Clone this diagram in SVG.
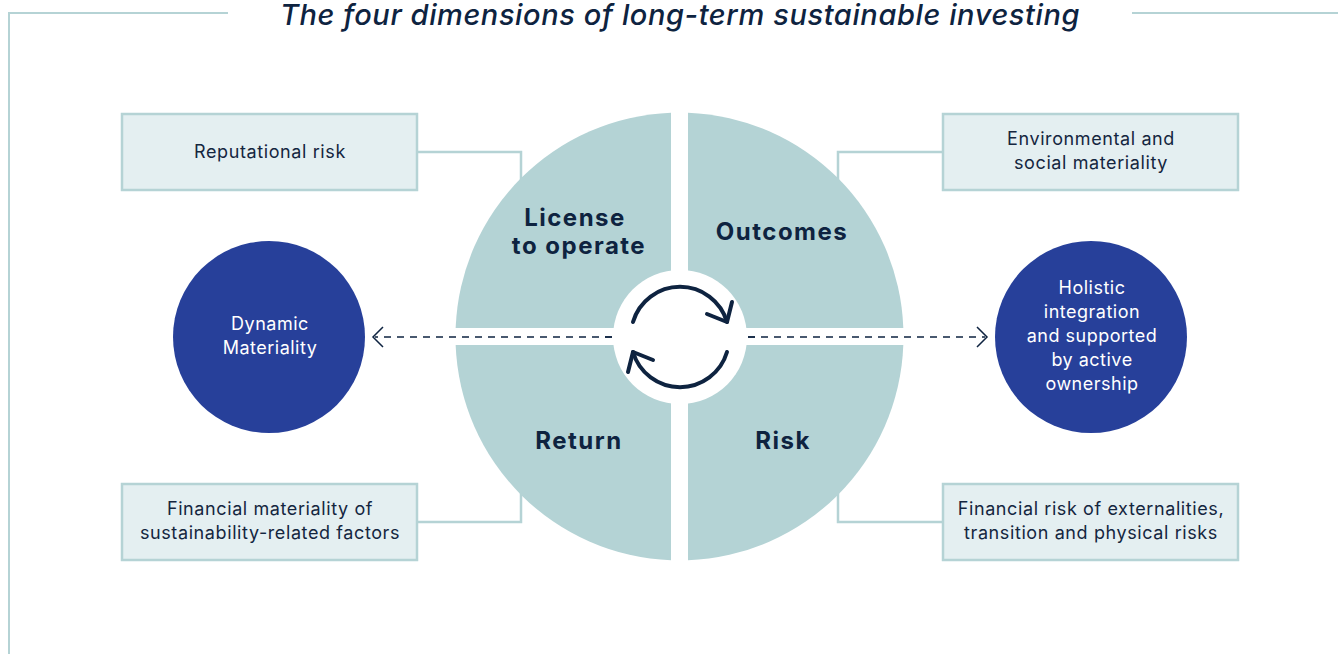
<svg xmlns="http://www.w3.org/2000/svg" width="1338" height="654" viewBox="0 0 1338 654">
<defs>
<style>
.frame{fill:none;stroke:#b5d3d5;stroke-width:2}
.conn{fill:none;stroke:#b5d3d5;stroke-width:2.5}
.box{fill:#e4eff1;stroke:#b5d3d5;stroke-width:2.5}
.quad{fill:#b4d3d5}
.btxt{font-family:Inter,"Liberation Sans",sans-serif;font-size:18px;letter-spacing:0.6px;fill:#14263f;text-anchor:middle}
.qtxt{font-family:Inter,"Liberation Sans",sans-serif;font-size:24px;letter-spacing:1.5px;font-weight:700;fill:#0e2340;text-anchor:middle}
.ctxt{font-family:Inter,"Liberation Sans",sans-serif;font-size:18px;letter-spacing:0.5px;fill:#ffffff;text-anchor:middle}
.dash{fill:none;stroke:#0e2340;stroke-width:1.5;stroke-dasharray:7 6}
.head{fill:none;stroke:#0e2340;stroke-width:1.5}
.cyc{fill:none;stroke:#0e2340;stroke-width:4;stroke-linecap:round;stroke-linejoin:round}
.blue{fill:#27409a}
</style>
</defs>
<rect width="1338" height="654" fill="#ffffff"/>
<g id="frame">
<path class="frame" d="M228 13 H9 V654"/>
<path class="frame" d="M1132 13 H1338"/>
</g>
<text id="title" x="680" y="25" font-family="Inter,'Liberation Sans',sans-serif" font-size="29" font-weight="500" letter-spacing="0.6" font-style="italic" fill="#0e2340" text-anchor="middle">The four dimensions of long-term sustainable investing</text>
<g id="connectors">
<path class="conn" d="M417 152 H521 V210"/>
<path class="conn" d="M943 152 H838 V210"/>
<path class="conn" d="M417 522 H521 V470"/>
<path class="conn" d="M943 522 H838 V470"/>
<path class="dash" d="M612 337 H375"/>
<path class="head" d="M383 327 L373 337 L383 347"/>
<path class="dash" d="M748 337 H985"/>
<path class="head" d="M977 327 L987 337 L977 347"/>
</g>
<g id="q-license">
<path class="quad" d="M671 112.66 L671 328 L455.66 328 A224 224 0 0 1 671 112.66 Z"/>
<text class="qtxt" x="575" y="226">License</text>
<text class="qtxt" x="579" y="254">to operate</text>
</g>
<g id="q-outcomes">
<path class="quad" d="M688 112.66 A224 224 0 0 1 903.34 328 L688 328 Z"/>
<text class="qtxt" x="782" y="240">Outcomes</text>
</g>
<g id="q-return">
<path class="quad" d="M671 560.34 A224 224 0 0 1 455.66 345 L671 345 Z"/>
<text class="qtxt" x="579" y="449">Return</text>
</g>
<g id="q-risk">
<path class="quad" d="M903.34 345 A224 224 0 0 1 688 560.34 L688 345 Z"/>
<text class="qtxt" x="783" y="449">Risk</text>
</g>
<g id="cycle">
<circle cx="680" cy="337" r="67" fill="#ffffff"/>
<path class="dash" d="M605 337 H612"/>
<path class="dash" d="M748 337 H755"/>
<path class="cyc" d="M633 322 A49 49 0 0 1 727 322"/>
<path class="cyc" d="M707 314 L727 322 L732 302"/>
<path class="cyc" d="M727 352 A49 49 0 0 1 633 352"/>
<path class="cyc" d="M653 360 L633 352 L628 372"/>
</g>
<g id="n-reputational">
<rect class="box" x="122" y="114" width="295" height="76"/>
<text class="btxt" x="270" y="158">Reputational risk</text>
</g>
<g id="n-environmental">
<rect class="box" x="943" y="114" width="295" height="76"/>
<text class="btxt" x="1091" y="145">Environmental and</text>
<text class="btxt" x="1091" y="169">social materiality</text>
</g>
<g id="n-financial-materiality">
<rect class="box" x="122" y="484" width="295" height="76"/>
<text class="btxt" x="270" y="515">Financial materiality of</text>
<text class="btxt" x="270" y="539">sustainability-related factors</text>
</g>
<g id="n-financial-risk">
<rect class="box" x="943" y="484" width="295" height="76"/>
<text class="btxt" x="1091" y="515">Financial risk of externalities,</text>
<text class="btxt" x="1091" y="539">transition and physical risks</text>
</g>
<g id="n-dynamic">
<circle class="blue" cx="269" cy="337" r="96"/>
<text class="ctxt" x="270" y="330">Dynamic</text>
<text class="ctxt" x="270" y="354">Materiality</text>
</g>
<g id="n-holistic">
<circle class="blue" cx="1091" cy="337" r="96"/>
<text class="ctxt" x="1092" y="294">Holistic</text>
<text class="ctxt" x="1092" y="318">integration</text>
<text class="ctxt" x="1092" y="342">and supported</text>
<text class="ctxt" x="1092" y="366">by active</text>
<text class="ctxt" x="1092" y="390">ownership</text>
</g>
</svg>
